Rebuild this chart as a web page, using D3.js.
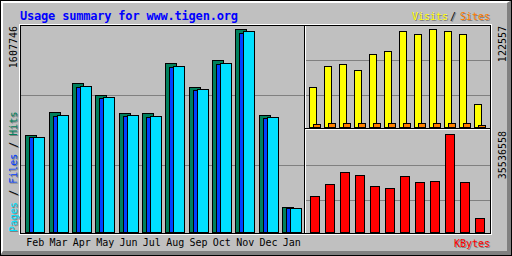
<!DOCTYPE html>
<html>
<head>
<meta charset="utf-8">
<script src="https://cdn.jsdelivr.net/npm/d3@7"></script>
<style>
  html, body { margin: 0; padding: 0; background: #c0c0c0; }
  svg { display: block; }
</style>
</head>
<body>
<div id="chart"></div>
<script>
const months = ["Feb", "Mar", "Apr", "May", "Jun", "Jul", "Aug", "Sep", "Oct", "Nov", "Dec", "Jan"];
const hits   = [768240, 950400, 1180080, 1085040, 942480, 941000, 1338480, 1148400, 1362240, 1607746, 926640, 198000];
const files  = [751000, 918720, 1148400, 1061280, 918720, 910800, 1306800, 1124640, 1330560, 1576080, 902880, 188000];
const pages  = [752400, 926640, 1156320, 1069200, 926640, 918720, 1314720, 1132560, 1338480, 1591920, 910800, 190080];
const visits = [50024, 76287, 78788, 71284, 91294, 95046, 120058, 116306, 122557, 120058, 116306, 28764];
const sites  = [3900, 5100, 5200, 4900, 5000, 5100, 5300, 5200, 5100, 5000, 4800, 2400];
const kbytes = [13054000, 17406000, 21757000, 20669000, 16680000, 15955000, 20307000, 18131000, 18494000, 35536558, 18131000, 5077000];

const title = "Usage summary for www.tigen.org";

const width = 512, height = 256;
const grey = "#c0c0c0", dkgrey = "#808080";
const colors = {
  hits: "#00805c", files: "#0040ff", pages: "#00e0ff",
  visits: "#ffff00", sites: "#ff8000", kbytes: "#ff0000"
};
const mono = "'DejaVu Sans Mono', monospace";

const svg = d3.select("#chart").append("svg")
  .attr("width", width)
  .attr("height", height);

// background + bevel
svg.append("rect").attr("width", width).attr("height", height).attr("fill", grey);
svg.append("polygon").attr("points", "0,0 512,0 507,3 3,3 3,251 0,256").attr("fill", "#fff");
svg.append("polygon").attr("points", "512,0 512,256 0,256 3,251 507,251 507,3").attr("fill", dkgrey);
svg.append("rect")
  .attr("x", 0.5).attr("y", 0.5).attr("width", 511).attr("height", 255)
  .attr("fill", "none").attr("stroke", "#000");

// plot frame
svg.append("rect")
  .attr("x", 19.5).attr("y", 24.5).attr("width", 472).attr("height", 210)
  .attr("fill", "none").attr("stroke", "#fff");
svg.append("rect")
  .attr("x", 20.5).attr("y", 25.5).attr("width", 470).attr("height", 208)
  .attr("fill", grey).attr("stroke", "#000");

// grid lines
const grid = svg.append("g").attr("stroke", dkgrey);
[95, 165].forEach(y => grid.append("line").attr("x1", 21).attr("x2", 304).attr("y1", y + 0.5).attr("y2", y + 0.5));
[60, 95, 165, 200].forEach(y => grid.append("line").attr("x1", 306).attr("x2", 490).attr("y1", y + 0.5).attr("y2", y + 0.5));

// section lines
svg.append("line").attr("x1", 304.5).attr("x2", 304.5).attr("y1", 25).attr("y2", 234).attr("stroke", "#000");
svg.append("line").attr("x1", 305.5).attr("x2", 305.5).attr("y1", 26).attr("y2", 233).attr("stroke", "#fff");
svg.append("line").attr("x1", 305).attr("x2", 490).attr("y1", 128.5).attr("y2", 128.5).attr("stroke", "#000");
svg.append("line").attr("x1", 306).attr("x2", 490).attr("y1", 129.5).attr("y2", 129.5).attr("stroke", "#fff");

// scales
const xMain = d3.scaleBand().domain(months).range([25.2, 305.2]);
const xSide = d3.scaleBand().domain(months).range([309, 489]);
const yMain = d3.scaleLinear().domain([0, d3.max(hits)]).range([232, 29]);
const yVisit = d3.scaleLinear().domain([0, d3.max(visits)]).range([127, 29]);
const yKb = d3.scaleLinear().domain([0, d3.max(kbytes)]).range([232, 134]);

// pixel-snapped bar with 1px black outline
function bar(g, left, w, top, bottom, fill) {
  const t = Math.round(top);
  g.append("rect")
    .attr("x", left + 0.5).attr("y", t + 0.5)
    .attr("width", w).attr("height", bottom - t)
    .attr("fill", fill).attr("stroke", "#000");
}

const bars = svg.append("g");
months.forEach((m, i) => {
  const a = Math.round(xMain(m));
  bar(bars, a, 11, yMain(hits[i]), 232, colors.hits);
  bar(bars, a + 4, 11, yMain(files[i]), 232, colors.files);
  bar(bars, a + 8, 11, yMain(pages[i]), 232, colors.pages);

  const b = Math.round(xSide(m));
  bar(bars, b, 7, yVisit(visits[i]), 127, colors.visits);
  bar(bars, b + 4, 7, yVisit(sites[i]), 127, colors.sites);
  bar(bars, b + 1, 9, yKb(kbytes[i]), 232, colors.kbytes);
});

// month labels
const xAxis = svg.append("g")
  .attr("transform", "translate(-1.7,236)")
  .call(d3.axisBottom(xMain).tickSize(0).tickPadding(0));
xAxis.select(".domain").remove();
xAxis.selectAll("text")
  .attr("y", 10).attr("dy", null)
  .attr("fill", "#000")
  .style("font-family", mono).style("font-size", "10px");

// text helpers
function text(x, y, str, color, opts = {}) {
  const draw = (dx, dy, c) => {
    const t = svg.append("text")
      .attr("transform", `translate(${x + dx},${y + dy})` + (opts.up ? " rotate(-90)" : ""))
      .attr("text-anchor", opts.anchor || "start")
      .attr("fill", c)
      .style("font-family", mono)
      .style("font-size", (opts.size || 10) + "px")
      .style("font-weight", opts.bold ? "bold" : "normal")
      .style("letter-spacing", opts.spacing || null);
    if (Array.isArray(str)) {
      str.forEach(p => t.append("tspan").attr("fill", c === dkgrey ? dkgrey : p[1]).text(p[0]));
    } else {
      t.text(str);
    }
  };
  if (opts.shadow) draw(1, 1, dkgrey);
  draw(0, 0, color);
}

text(20, 20, title, "#0000ff", { size: 12, bold: true, spacing: "-0.2px" });

text(412, 20, "Visits", colors.visits, { shadow: true });
text(450, 20, "/", "#000", { shadow: true });
text(460, 20, "Sites", colors.sites, { shadow: true });
text(490, 247, "KBytes", colors.kbytes, { anchor: "end", shadow: true });

text(17, 26, String(d3.max(hits)), "#000", { up: true, anchor: "end" });
text(17, 232, [["Pages", colors.pages], [" / ", "#000"], ["Files", colors.files], [" / ", "#000"], ["Hits", colors.hits]],
  "#000", { up: true, shadow: true });

text(506, 26, String(d3.max(visits)), "#000", { up: true, anchor: "end" });
text(506, 131, String(d3.max(kbytes)), "#000", { up: true, anchor: "end" });
</script>
</body>
</html>
